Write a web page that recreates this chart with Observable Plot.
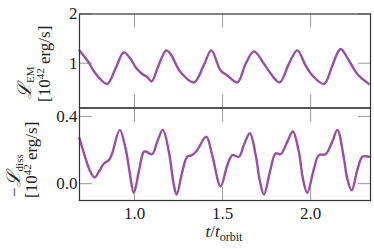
<!DOCTYPE html>
<html><head><meta charset="utf-8">
<script src="https://cdn.jsdelivr.net/npm/d3@7"></script>
<script src="https://cdn.jsdelivr.net/npm/@observablehq/plot@0.6"></script>
<style>
body{margin:0;background:#fff;}
#wrap{position:relative;width:374px;height:249px;font-family:"Liberation Serif","DejaVu Serif",serif;}
#wrap svg{position:absolute;left:0;}
#wrap svg text{font-family:"Liberation Serif","DejaVu Serif",serif !important;}
</style></head><body><div id="wrap"></div>
<script>
// time in orbits
const tTop = [0.6875,0.739,0.767,0.795,0.845,0.892,0.939,0.977,1.006,1.044,1.072,1.097,1.136,1.180,1.204,1.261,1.337,1.392,1.436,1.489,1.527,1.584,1.631,1.678,1.735,1.773,1.824,1.877,1.924,1.972,2.010,2.076,2.123,2.170,2.218,2.265,2.294,2.330];
const lEM = [1.26,1.02,0.85,0.72,0.58,0.89,1.22,1.09,0.92,0.78,0.72,0.63,0.95,1.26,1.19,0.82,0.61,0.95,1.26,0.85,0.75,0.61,0.99,1.24,0.99,0.79,0.61,0.99,1.26,0.95,0.75,0.58,0.95,1.29,1.05,0.78,0.68,0.58];
const tBot = [0.6875,0.722,0.750,0.774,0.797,0.826,0.854,0.873,0.916,0.949,0.972,0.996,1.024,1.053,1.068,1.100,1.129,1.161,1.195,1.223,1.239,1.271,1.299,1.328,1.356,1.407,1.441,1.489,1.527,1.556,1.593,1.621,1.655,1.688,1.712,1.735,1.769,1.801,1.830,1.868,1.899,1.933,1.956,1.981,2.019,2.047,2.085,2.123,2.152,2.189,2.208,2.233,2.265,2.294,2.331];
const lDiss = [0.27,0.15,0.07,0.037,0.07,0.12,0.14,0.18,0.32,0.21,0.07,-0.055,0.07,0.19,0.19,0.175,0.25,0.32,0.19,-0.006,-0.065,0.07,0.16,0.17,0.20,0.28,0.17,-0.016,0.11,0.17,0.16,0.23,0.30,0.17,0.014,-0.065,0.07,0.18,0.175,0.25,0.31,0.19,0.03,-0.055,0.09,0.17,0.175,0.25,0.32,0.15,0.03,-0.04,0.08,0.16,0.16];
const xTicks = [1.0, 1.5, 2.0];
const xTickLabels = ["1.0", "1.5", "2.0"];
const yTopTicks = [1, 2];
const yTopLabels = ["1", "2"];
const yBotTicks = [0.0, 0.4];
const yBotLabels = ["0.0", "0.4"];

const lineColor = "#984ea3";
const tickColor = "#999";
const frameColor = "#333";
const xDomain = [0.6875, 2.34];

function panel({data, yDomain, yTicks, yLabels, height, mt, mb, showX}) {
  const fmt = (ticks, labels) => d => labels[ticks.indexOf(d)];
  const marks = [
    Plot.axisX(xTicks, {anchor: "top", tickSize: -13, stroke: tickColor, tickFormat: () => "", label: null}),
    Plot.axisX(xTicks, {anchor: "bottom", tickSize: -13, stroke: tickColor, tickFormat: () => "", label: null}),
    Plot.axisY(yTicks, {anchor: "left", tickSize: -13, stroke: tickColor, tickFormat: () => "", label: null}),
    Plot.axisY(yTicks, {anchor: "right", tickSize: -13, stroke: tickColor, tickFormat: () => "", label: null}),
    Plot.axisY(yTicks, {anchor: "left", tickSize: 0, tickPadding: 2, tickFormat: fmt(yTicks, yLabels), label: null, fill: "#222"}),
    Plot.line(data, {x: "t", y: "v", stroke: lineColor, strokeWidth: 2.4, curve: "catmull-rom"}),
    Plot.frame({stroke: frameColor, strokeWidth: 1.2})
  ];
  if (showX) marks.push(Plot.axisX(xTicks, {anchor: "bottom", tickSize: 0, tickPadding: 6, tickFormat: fmt(xTicks, xTickLabels), label: null, fill: "#222"}));
  return Plot.plot({
    width: 374, height,
    marginLeft: 79, marginRight: 4, marginTop: mt, marginBottom: mb,
    x: {domain: xDomain, axis: null},
    y: {domain: yDomain, axis: null},
    style: {fontFamily: '"Liberation Serif", "DejaVu Serif", serif', fontSize: "17px", background: "transparent", overflow: "visible"},
    marks
  });
}

const wrap = document.getElementById("wrap");
const topData = tTop.map((t, i) => ({t, v: lEM[i]}));
const botData = tBot.map((t, i) => ({t, v: lDiss[i]}));
const p1 = panel({data: topData, yDomain: [0.09, 2], yTicks: yTopTicks, yLabels: yTopLabels, height: 108, mt: 13.5, mb: 0.5, showX: false});
p1.style.top = "0px";
const p2 = panel({data: botData, yDomain: [-0.1, 0.45], yTicks: yBotTicks, yLabels: yBotLabels, height: 142, mt: 0.5, mb: 49, showX: true});
p2.style.top = "107px";
wrap.appendChild(p1);
wrap.appendChild(p2);

const ns = "http://www.w3.org/2000/svg";
const ov = document.createElementNS(ns, "svg");
ov.setAttribute("width", 374); ov.setAttribute("height", 249);
ov.style.top = "0px";
ov.setAttribute("fill", "#222");
ov.innerHTML = `
<text transform="translate(31,99) rotate(-90)" font-size="17"><tspan font-size="19" font-style="italic">ℒ</tspan><tspan font-size="11" dy="3">EM</tspan></text>
<text transform="translate(50,102) rotate(-90)" font-size="17">[10<tspan font-size="11" dy="-6">42</tspan><tspan dy="6"> erg/s]</tspan></text>
<text transform="translate(20,197) rotate(-90)" font-size="17">−<tspan font-size="19" font-style="italic">ℒ</tspan><tspan font-size="11" dy="3">diss</tspan></text>
<text transform="translate(37,198) rotate(-90)" font-size="17">[10<tspan font-size="11" dy="-6">42</tspan><tspan dy="6"> erg/s]</tspan></text>
<text x="224" y="237" text-anchor="middle" font-size="17"><tspan font-style="italic">t</tspan>/<tspan font-style="italic">t</tspan><tspan font-size="12" dy="4">orbit</tspan></text>
`;
wrap.appendChild(ov);
</script>
</body></html>
